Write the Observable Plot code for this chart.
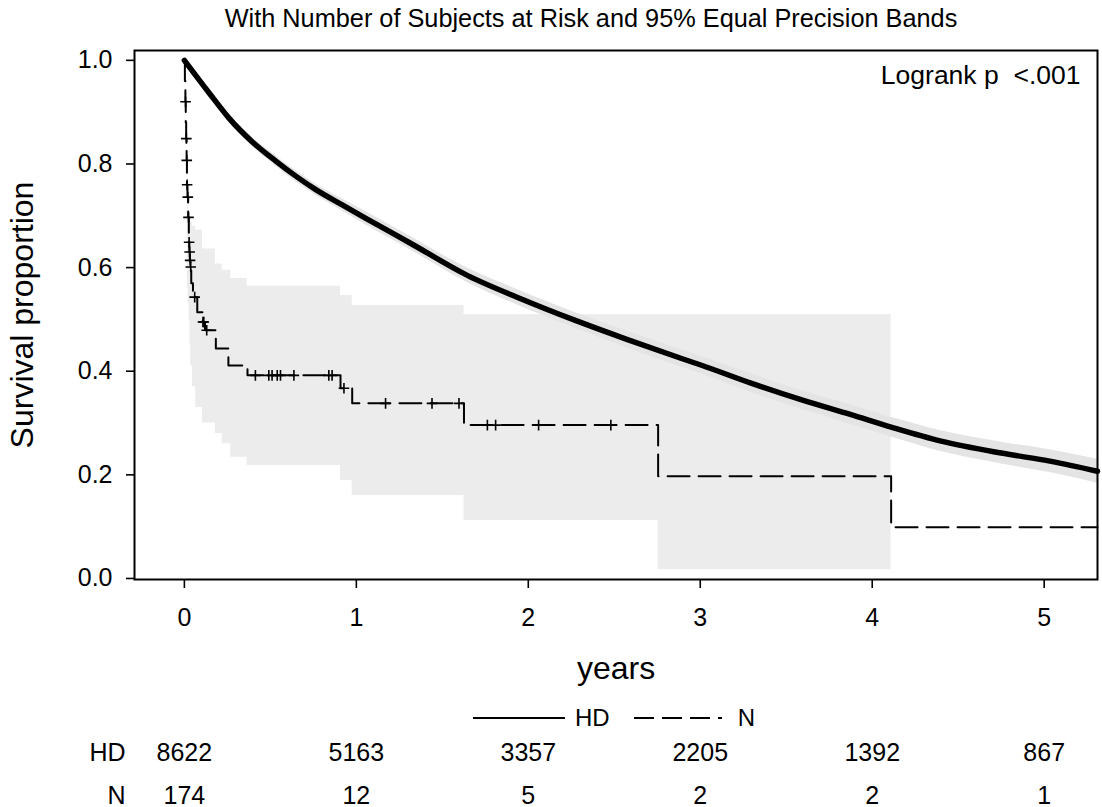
<!DOCTYPE html>
<html><head><meta charset="utf-8">
<script src="https://cdn.jsdelivr.net/npm/d3@7"></script>
<script src="https://cdn.jsdelivr.net/npm/@observablehq/plot@0.6"></script>
<style>
body{margin:0;background:#fff;}
#wrap{position:relative;width:1102px;height:807px;font-family:"Liberation Sans",Arial,sans-serif;}
#legend{position:absolute;top:702px;left:473px;height:32px;display:flex;align-items:center;font-size:24px;color:#000;}
#legend span{display:inline-block;}
</style></head><body><div id="wrap"></div>
<script>
// ---- text ----
const titleText = "With Number of Subjects at Risk and 95% Equal Precision Bands";
const logrankText = "Logrank p\u00a0\u00a0<.001";
const xLabel = "years";
const yLabel = "Survival proportion";
const groups = ["HD", "N"];

// ---- axes ----
const xTicks = [0, 1, 2, 3, 4, 5];
const yTicks = [0, 0.2, 0.4, 0.6, 0.8, 1.0];

// ---- HD survival curve (years, survival, band half-width) ----
const hdT = [0, 0.142, 0.258, 0.394, 0.53, 0.646, 0.762, 0.918, 1.05, 1.315, 1.645, 1.956, 2.266, 2.577, 2.887, 3.003, 3.295, 3.586, 3.877, 4.11, 4.40, 4.75, 5.04, 5.31];
const hdS = [1.0, 0.938, 0.889, 0.843, 0.806, 0.777, 0.751, 0.721, 0.696, 0.647, 0.585, 0.540, 0.499, 0.461, 0.425, 0.412, 0.377, 0.345, 0.316, 0.292, 0.265, 0.242, 0.226, 0.207];
const hdHalf = [0, 0.006, 0.008, 0.009, 0.010, 0.011, 0.011, 0.012, 0.013, 0.013, 0.014, 0.015, 0.015, 0.016, 0.017, 0.017, 0.018, 0.018, 0.019, 0.019, 0.020, 0.021, 0.022, 0.023];

// ---- N survival curve (step function) ----
const nT = [0, 0.003, 0.006, 0.008, 0.0105, 0.013, 0.015, 0.018, 0.022, 0.026, 0.029, 0.032, 0.035, 0.04, 0.05, 0.075, 0.105, 0.12, 0.183, 0.256, 0.367, 0.908, 0.976, 1.626, 2.755, 4.11, 5.31];
const nS = [1, 0.96, 0.92, 0.88, 0.849, 0.807, 0.76, 0.736, 0.697, 0.649, 0.63, 0.614, 0.601, 0.57, 0.543, 0.514, 0.495, 0.479, 0.444, 0.411, 0.392, 0.367, 0.338, 0.296, 0.1975, 0.099, 0.099];

// ---- N censored observations ----
const nCensT = [0.007, 0.0115, 0.014, 0.016, 0.02, 0.024, 0.0275, 0.0305, 0.0335, 0.037, 0.06, 0.108, 0.113, 0.13, 0.413, 0.491, 0.51, 0.54, 0.559, 0.637, 0.84, 0.859, 0.928, 1.17, 1.44, 1.597, 1.762, 1.81, 2.06, 2.48];
const nCensS = [0.92, 0.849, 0.807, 0.76, 0.736, 0.697, 0.649, 0.63, 0.614, 0.601, 0.543, 0.495, 0.495, 0.479, 0.392, 0.392, 0.392, 0.392, 0.392, 0.392, 0.392, 0.392, 0.367, 0.338, 0.338, 0.338, 0.296, 0.296, 0.296, 0.296];

// ---- N equal precision band ----
const nBandT  = [0.017, 0.022, 0.027, 0.032, 0.037, 0.047, 0.066, 0.105, 0.18, 0.22, 0.27, 0.365, 0.908, 0.976, 1.626, 2.755, 4.11];
const nBandLo = [0.56, 0.53, 0.50, 0.45, 0.41, 0.37, 0.33, 0.30, 0.28, 0.26, 0.234, 0.218, 0.189, 0.160, 0.112, 0.017, 0.017];
const nBandHi = [0.73, 0.71, 0.70, 0.695, 0.688, 0.68, 0.672, 0.636, 0.607, 0.595, 0.579, 0.564, 0.546, 0.527, 0.509, 0.509, 0.509];

// ---- number at risk ----
const atRiskT = [0, 1, 2, 3, 4, 5];
const hdAtRisk = [8622, 5163, 3357, 2205, 1392, 867];
const nAtRisk = [174, 12, 5, 2, 2, 1];

// ---- build tables ----
const hd = hdT.map((t, i) => ({t, s: hdS[i], lo: hdS[i] - hdHalf[i], hi: hdS[i] + hdHalf[i]}));
const nCurve = nT.map((t, i) => ({t, s: nS[i]}));
const nCens = nCensT.map((t, i) => ({t, s: nCensS[i]}));
const nBand = nBandT.map((t, i) => ({t, lo: nBandLo[i], hi: nBandHi[i]}));

const FONT = "'Liberation Sans', Arial, Helvetica, sans-serif";

const plot = Plot.plot({
  width: 1102, height: 807,
  marginTop: 50, marginLeft: 134, marginRight: 5, marginBottom: 228,
  style: {fontFamily: FONT, background: "white", color: "black", overflow: "visible"},
  x: {domain: [-0.29, 5.31]},
  y: {domain: [-0.002, 1.019]},
  marks: [
    Plot.areaY(nBand, {x: "t", y1: "lo", y2: "hi", curve: "step-after", fill: "#ececec"}),
    Plot.areaY(hd, {x: "t", y1: "lo", y2: "hi", curve: "monotone-x", fill: "#e4e4e4"}),
    Plot.line(nCurve, {x: "t", y: "s", curve: "step-after", stroke: "black", strokeWidth: 2, strokeDasharray: "22,9"}),
    Plot.dot(nCens, {x: "t", y: "s", symbol: "plus", r: 3.5, stroke: "black", strokeWidth: 1.6}),
    Plot.line(hd, {x: "t", y: "s", curve: "monotone-x", stroke: "black", strokeWidth: 5.5}),
    Plot.frame({stroke: "black", strokeWidth: 2}),
    Plot.axisY({ticks: yTicks, tickFormat: ".1f", tickSize: 8, tickPadding: 14, fontSize: 25, strokeWidth: 1.6, label: null}),
    Plot.axisX({ticks: xTicks, tickFormat: d => String(d), tickSize: 9, tickPadding: 20, fontSize: 25, strokeWidth: 1.6, label: null}),
    Plot.text([titleText], {frameAnchor: "top", dy: -32, dx: -25, fontSize: 25.3, lineAnchor: "middle"}),
    Plot.text([logrankText], {frameAnchor: "top-right", dx: -17, dy: 25, textAnchor: "end", lineAnchor: "middle", fontSize: 26.5}),
    Plot.text([xLabel], {frameAnchor: "bottom", dy: 89, lineAnchor: "middle", fontSize: 32}),
    Plot.text([yLabel], {frameAnchor: "left", dx: -112, rotate: -90, textAnchor: "middle", lineAnchor: "middle", fontSize: 32}),
    Plot.text([groups[0]], {frameAnchor: "bottom-left", dx: -9, dy: 173, textAnchor: "end", lineAnchor: "middle", fontSize: 25}),
    Plot.text([groups[1]], {frameAnchor: "bottom-left", dx: -9, dy: 216, textAnchor: "end", lineAnchor: "middle", fontSize: 25}),
    Plot.text(atRiskT, {x: d => d, text: (d, i) => String(hdAtRisk[i]), frameAnchor: "bottom", dy: 173, lineAnchor: "middle", fontSize: 25}),
    Plot.text(atRiskT, {x: d => d, text: (d, i) => String(nAtRisk[i]), frameAnchor: "bottom", dy: 216, lineAnchor: "middle", fontSize: 25})
  ]
});

const wrap = document.getElementById("wrap");
wrap.appendChild(plot);

// legend
const legend = document.createElement("div");
legend.id = "legend";
legend.innerHTML =
  `<svg width="92" height="10"><line x1="0" y1="5" x2="92" y2="5" stroke="black" stroke-width="2"/></svg>` +
  `<span style="margin-left:10px">${groups[0]}</span>` +
  `<svg width="88" height="10" style="margin-left:24px"><line x1="0" y1="5" x2="88" y2="5" stroke="black" stroke-width="2" stroke-dasharray="20,8"/></svg>` +
  `<span style="margin-left:16px">${groups[1]}</span>`;
wrap.appendChild(legend);
</script>
</body></html>
